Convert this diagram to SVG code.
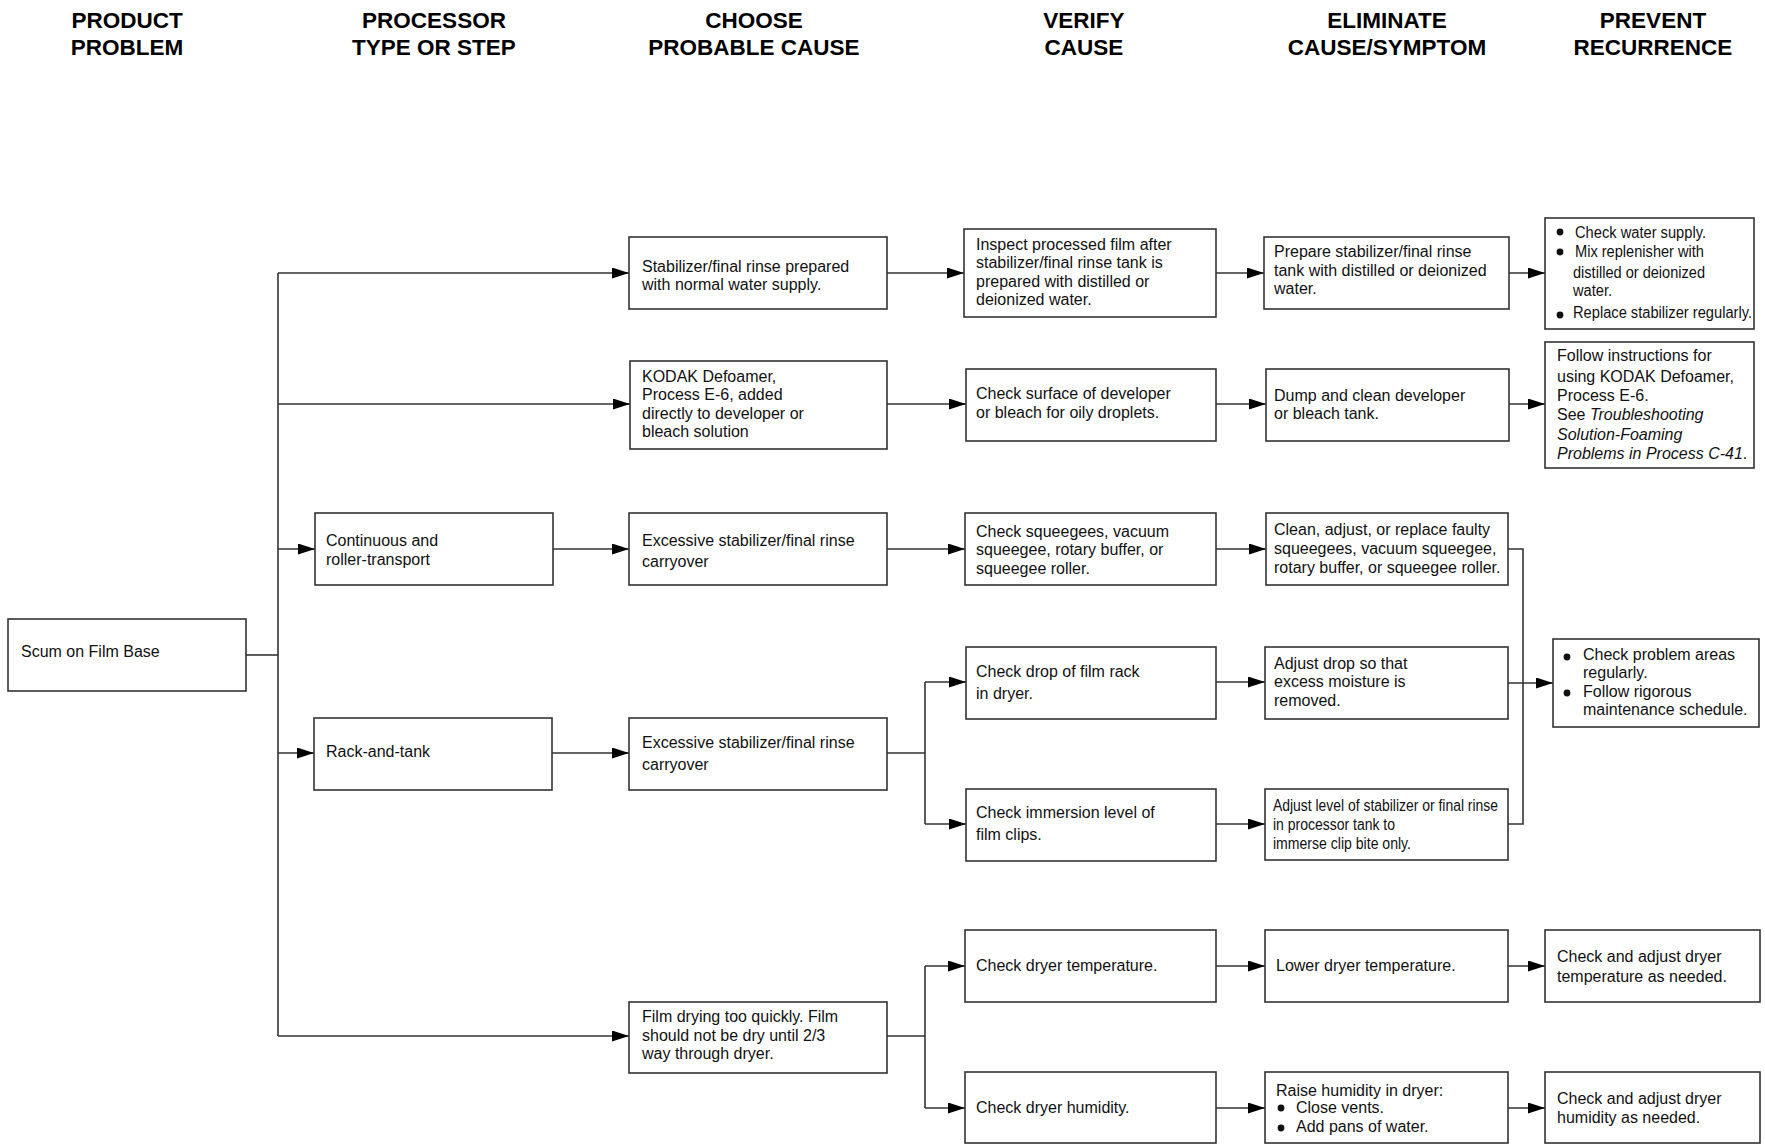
<svg xmlns="http://www.w3.org/2000/svg" width="1765" height="1145" viewBox="0 0 1765 1145">
<style>
.box{fill:#fff;stroke:#333;stroke-width:1.6}
.ln{fill:none;stroke:#333;stroke-width:1.6}
.ar{fill:none;stroke:#333;stroke-width:1.6;marker-end:url(#ah)}
text{font-family:"Liberation Sans",Arial,sans-serif;font-size:16px;fill:#111}
.hdr{font-weight:bold;font-size:22.5px;text-anchor:middle;fill:#000}
.bul{fill:#111}
</style>
<defs>
<marker id="ah" markerUnits="userSpaceOnUse" markerWidth="17" markerHeight="11" refX="17" refY="5.5" orient="auto">
<path d="M0,0 L17,5.5 L0,11 Z" fill="#000"/>
</marker>
</defs>
<rect width="1765" height="1145" fill="#fff"/>
<g id="headers">
<text class="hdr" x="127" y="28">PRODUCT</text><text class="hdr" x="127" y="55">PROBLEM</text>
<text class="hdr" x="434" y="28">PROCESSOR</text><text class="hdr" x="434" y="55">TYPE OR STEP</text>
<text class="hdr" x="754" y="28">CHOOSE</text><text class="hdr" x="754" y="55">PROBABLE CAUSE</text>
<text class="hdr" x="1084" y="28">VERIFY</text><text class="hdr" x="1084" y="55">CAUSE</text>
<text class="hdr" x="1387" y="28">ELIMINATE</text><text class="hdr" x="1387" y="55">CAUSE/SYMPTOM</text>
<text class="hdr" x="1653" y="28">PREVENT</text><text class="hdr" x="1653" y="55">RECURRENCE</text>
</g>
<g id="connectors">
<path class="ln" d="M246,655 H278"/>
<path class="ln" d="M278,273 V1036"/>
<path class="ar" d="M278,273 H629"/>
<path class="ar" d="M278,404 H630"/>
<path class="ar" d="M278,549 H315"/>
<path class="ar" d="M278,753 H314"/>
<path class="ar" d="M278,1036 H629"/>
<path class="ar" d="M887,273 H964"/>
<path class="ar" d="M1216,273 H1264"/>
<path class="ar" d="M1509,273 H1545"/>
<path class="ar" d="M887,404 H966"/>
<path class="ar" d="M1216,404 H1266"/>
<path class="ar" d="M1509,404 H1545"/>
<path class="ar" d="M553,549 H629"/>
<path class="ar" d="M887,549 H965"/>
<path class="ar" d="M1216,549 H1266"/>
<path class="ln" d="M1508,549 H1523 V824 H1508"/>
<path class="ar" d="M1508,683 H1553"/>
<path class="ar" d="M552,753 H629"/>
<path class="ln" d="M887,753 H925 M925,682 V824"/>
<path class="ar" d="M925,682 H966"/>
<path class="ar" d="M925,824 H966"/>
<path class="ar" d="M1216,682 H1265"/>
<path class="ar" d="M1216,824 H1265"/>
<path class="ln" d="M887,1036 H925 M925,966 V1108"/>
<path class="ar" d="M925,966 H965"/>
<path class="ar" d="M925,1108 H965"/>
<path class="ar" d="M1216,966 H1265"/>
<path class="ar" d="M1508,966 H1545"/>
<path class="ar" d="M1216,1108 H1265"/>
<path class="ar" d="M1508,1108 H1545"/>
</g>
<g id="n-scum"><rect class="box" x="8" y="619" width="238" height="72"/><text x="21" y="657">Scum on Film Base</text></g>
<g id="n-continuous"><rect class="box" x="315" y="513" width="238" height="72"/><text x="326" y="546">Continuous and</text><text x="326" y="565">roller-transport</text></g>
<g id="n-rack"><rect class="box" x="314" y="718" width="238" height="72"/><text x="326" y="757">Rack-and-tank</text></g>
<g id="n-c1"><rect class="box" x="629" y="237" width="258" height="72"/><text x="642" y="272">Stabilizer/final rinse prepared</text><text x="642" y="290">with normal water supply.</text></g>
<g id="n-c2"><rect class="box" x="630" y="361" width="257" height="88"/><text x="642" y="382">KODAK Defoamer,</text><text x="642" y="400">Process E-6, added</text><text x="642" y="419">directly to developer or</text><text x="642" y="437">bleach solution</text></g>
<g id="n-c3"><rect class="box" x="629" y="513" width="258" height="72"/><text x="642" y="546">Excessive stabilizer/final rinse</text><text x="642" y="567">carryover</text></g>
<g id="n-c4"><rect class="box" x="629" y="718" width="258" height="72"/><text x="642" y="748">Excessive stabilizer/final rinse</text><text x="642" y="770">carryover</text></g>
<g id="n-c5"><rect class="box" x="629" y="1002" width="258" height="71"/><text x="642" y="1022">Film drying too quickly. Film</text><text x="642" y="1041">should not be dry until 2/3</text><text x="642" y="1059">way through dryer.</text></g>
<g id="n-v1"><rect class="box" x="964" y="229" width="252" height="88"/><text x="976" y="250">Inspect processed film after</text><text x="976" y="268">stabilizer/final rinse tank is</text><text x="976" y="287">prepared with distilled or</text><text x="976" y="305">deionized water.</text></g>
<g id="n-v2"><rect class="box" x="966" y="369" width="250" height="72"/><text x="976" y="399">Check surface of developer</text><text x="976" y="418">or bleach for oily droplets.</text></g>
<g id="n-v3"><rect class="box" x="965" y="513" width="251" height="72"/><text x="976" y="537">Check squeegees, vacuum</text><text x="976" y="555">squeegee, rotary buffer, or</text><text x="976" y="574">squeegee roller.</text></g>
<g id="n-v4"><rect class="box" x="966" y="647" width="250" height="72"/><text x="976" y="677">Check drop of film rack</text><text x="976" y="699">in dryer.</text></g>
<g id="n-v5"><rect class="box" x="966" y="789" width="250" height="72"/><text x="976" y="818">Check immersion level of</text><text x="976" y="840">film clips.</text></g>
<g id="n-v6"><rect class="box" x="965" y="930" width="251" height="72"/><text x="976" y="971">Check dryer temperature.</text></g>
<g id="n-v7"><rect class="box" x="965" y="1072" width="251" height="71"/><text x="976" y="1113">Check dryer humidity.</text></g>
<g id="n-e1"><rect class="box" x="1264" y="237" width="245" height="72"/><text x="1274" y="257">Prepare stabilizer/final rinse</text><text x="1274" y="276">tank with distilled or deionized</text><text x="1274" y="294">water.</text></g>
<g id="n-e2"><rect class="box" x="1266" y="369" width="243" height="72"/><text x="1274" y="401">Dump and clean developer</text><text x="1274" y="419">or bleach tank.</text></g>
<g id="n-e3"><rect class="box" x="1266" y="513" width="242" height="72"/><text x="1274" y="535">Clean, adjust, or replace faulty</text><text x="1274" y="554">squeegees, vacuum squeegee,</text><text x="1274" y="573">rotary buffer, or squeegee roller.</text></g>
<g id="n-e4"><rect class="box" x="1265" y="647" width="243" height="72"/><text x="1274" y="669">Adjust drop so that</text><text x="1274" y="687">excess moisture is</text><text x="1274" y="706">removed.</text></g>
<g id="n-e5"><rect class="box" x="1265" y="789" width="243" height="71"/><text x="1273" y="811" textLength="225" lengthAdjust="spacingAndGlyphs">Adjust level of stabilizer or final rinse</text><text x="1273" y="830" textLength="122" lengthAdjust="spacingAndGlyphs">in processor tank to</text><text x="1273" y="849" textLength="138" lengthAdjust="spacingAndGlyphs">immerse clip bite only.</text></g>
<g id="n-e6"><rect class="box" x="1265" y="930" width="243" height="72"/><text x="1276" y="971">Lower dryer temperature.</text></g>
<g id="n-e7"><rect class="box" x="1265" y="1072" width="243" height="71"/><text x="1276" y="1096">Raise humidity in dryer:</text><circle class="bul" cx="1281" cy="1108" r="3.4"/><text x="1296" y="1113">Close vents.</text><circle class="bul" cx="1281" cy="1128" r="3.4"/><text x="1296" y="1132">Add pans of water.</text></g>
<g id="n-p1"><rect class="box" x="1545" y="218" width="209" height="111"/><circle class="bul" cx="1560" cy="232" r="3.4"/><text x="1575" y="238" textLength="131" lengthAdjust="spacingAndGlyphs">Check water supply.</text><circle class="bul" cx="1560" cy="252" r="3.4"/><text x="1575" y="257" textLength="129" lengthAdjust="spacingAndGlyphs">Mix replenisher with</text><text x="1573" y="278" textLength="132" lengthAdjust="spacingAndGlyphs">distilled or deionized</text><text x="1573" y="296" textLength="39" lengthAdjust="spacingAndGlyphs">water.</text><circle class="bul" cx="1560" cy="315" r="3.4"/><text x="1573" y="318" textLength="179" lengthAdjust="spacingAndGlyphs">Replace stabilizer regularly.</text></g>
<g id="n-p2"><rect class="box" x="1545" y="342" width="209" height="126"/><text x="1557" y="361">Follow instructions for</text><text x="1557" y="382">using KODAK Defoamer,</text><text x="1557" y="401">Process E-6.</text><text x="1557" y="420">See <tspan font-style="italic">Troubleshooting</tspan></text><text x="1557" y="440" font-style="italic">Solution-Foaming</text><text x="1557" y="459"><tspan font-style="italic">Problems in Process C-41</tspan>.</text></g>
<g id="n-p3"><rect class="box" x="1553" y="639" width="206" height="88"/><circle class="bul" cx="1567" cy="657" r="3.4"/><text x="1583" y="660">Check problem areas</text><text x="1583" y="678">regularly.</text><circle class="bul" cx="1567" cy="693" r="3.4"/><text x="1583" y="697">Follow rigorous</text><text x="1583" y="715">maintenance schedule.</text></g>
<g id="n-p4"><rect class="box" x="1545" y="930" width="215" height="72"/><text x="1557" y="962">Check and adjust dryer</text><text x="1557" y="982">temperature as needed.</text></g>
<g id="n-p5"><rect class="box" x="1545" y="1072" width="215" height="71"/><text x="1557" y="1104">Check and adjust dryer</text><text x="1557" y="1123">humidity as needed.</text></g>
</svg>
